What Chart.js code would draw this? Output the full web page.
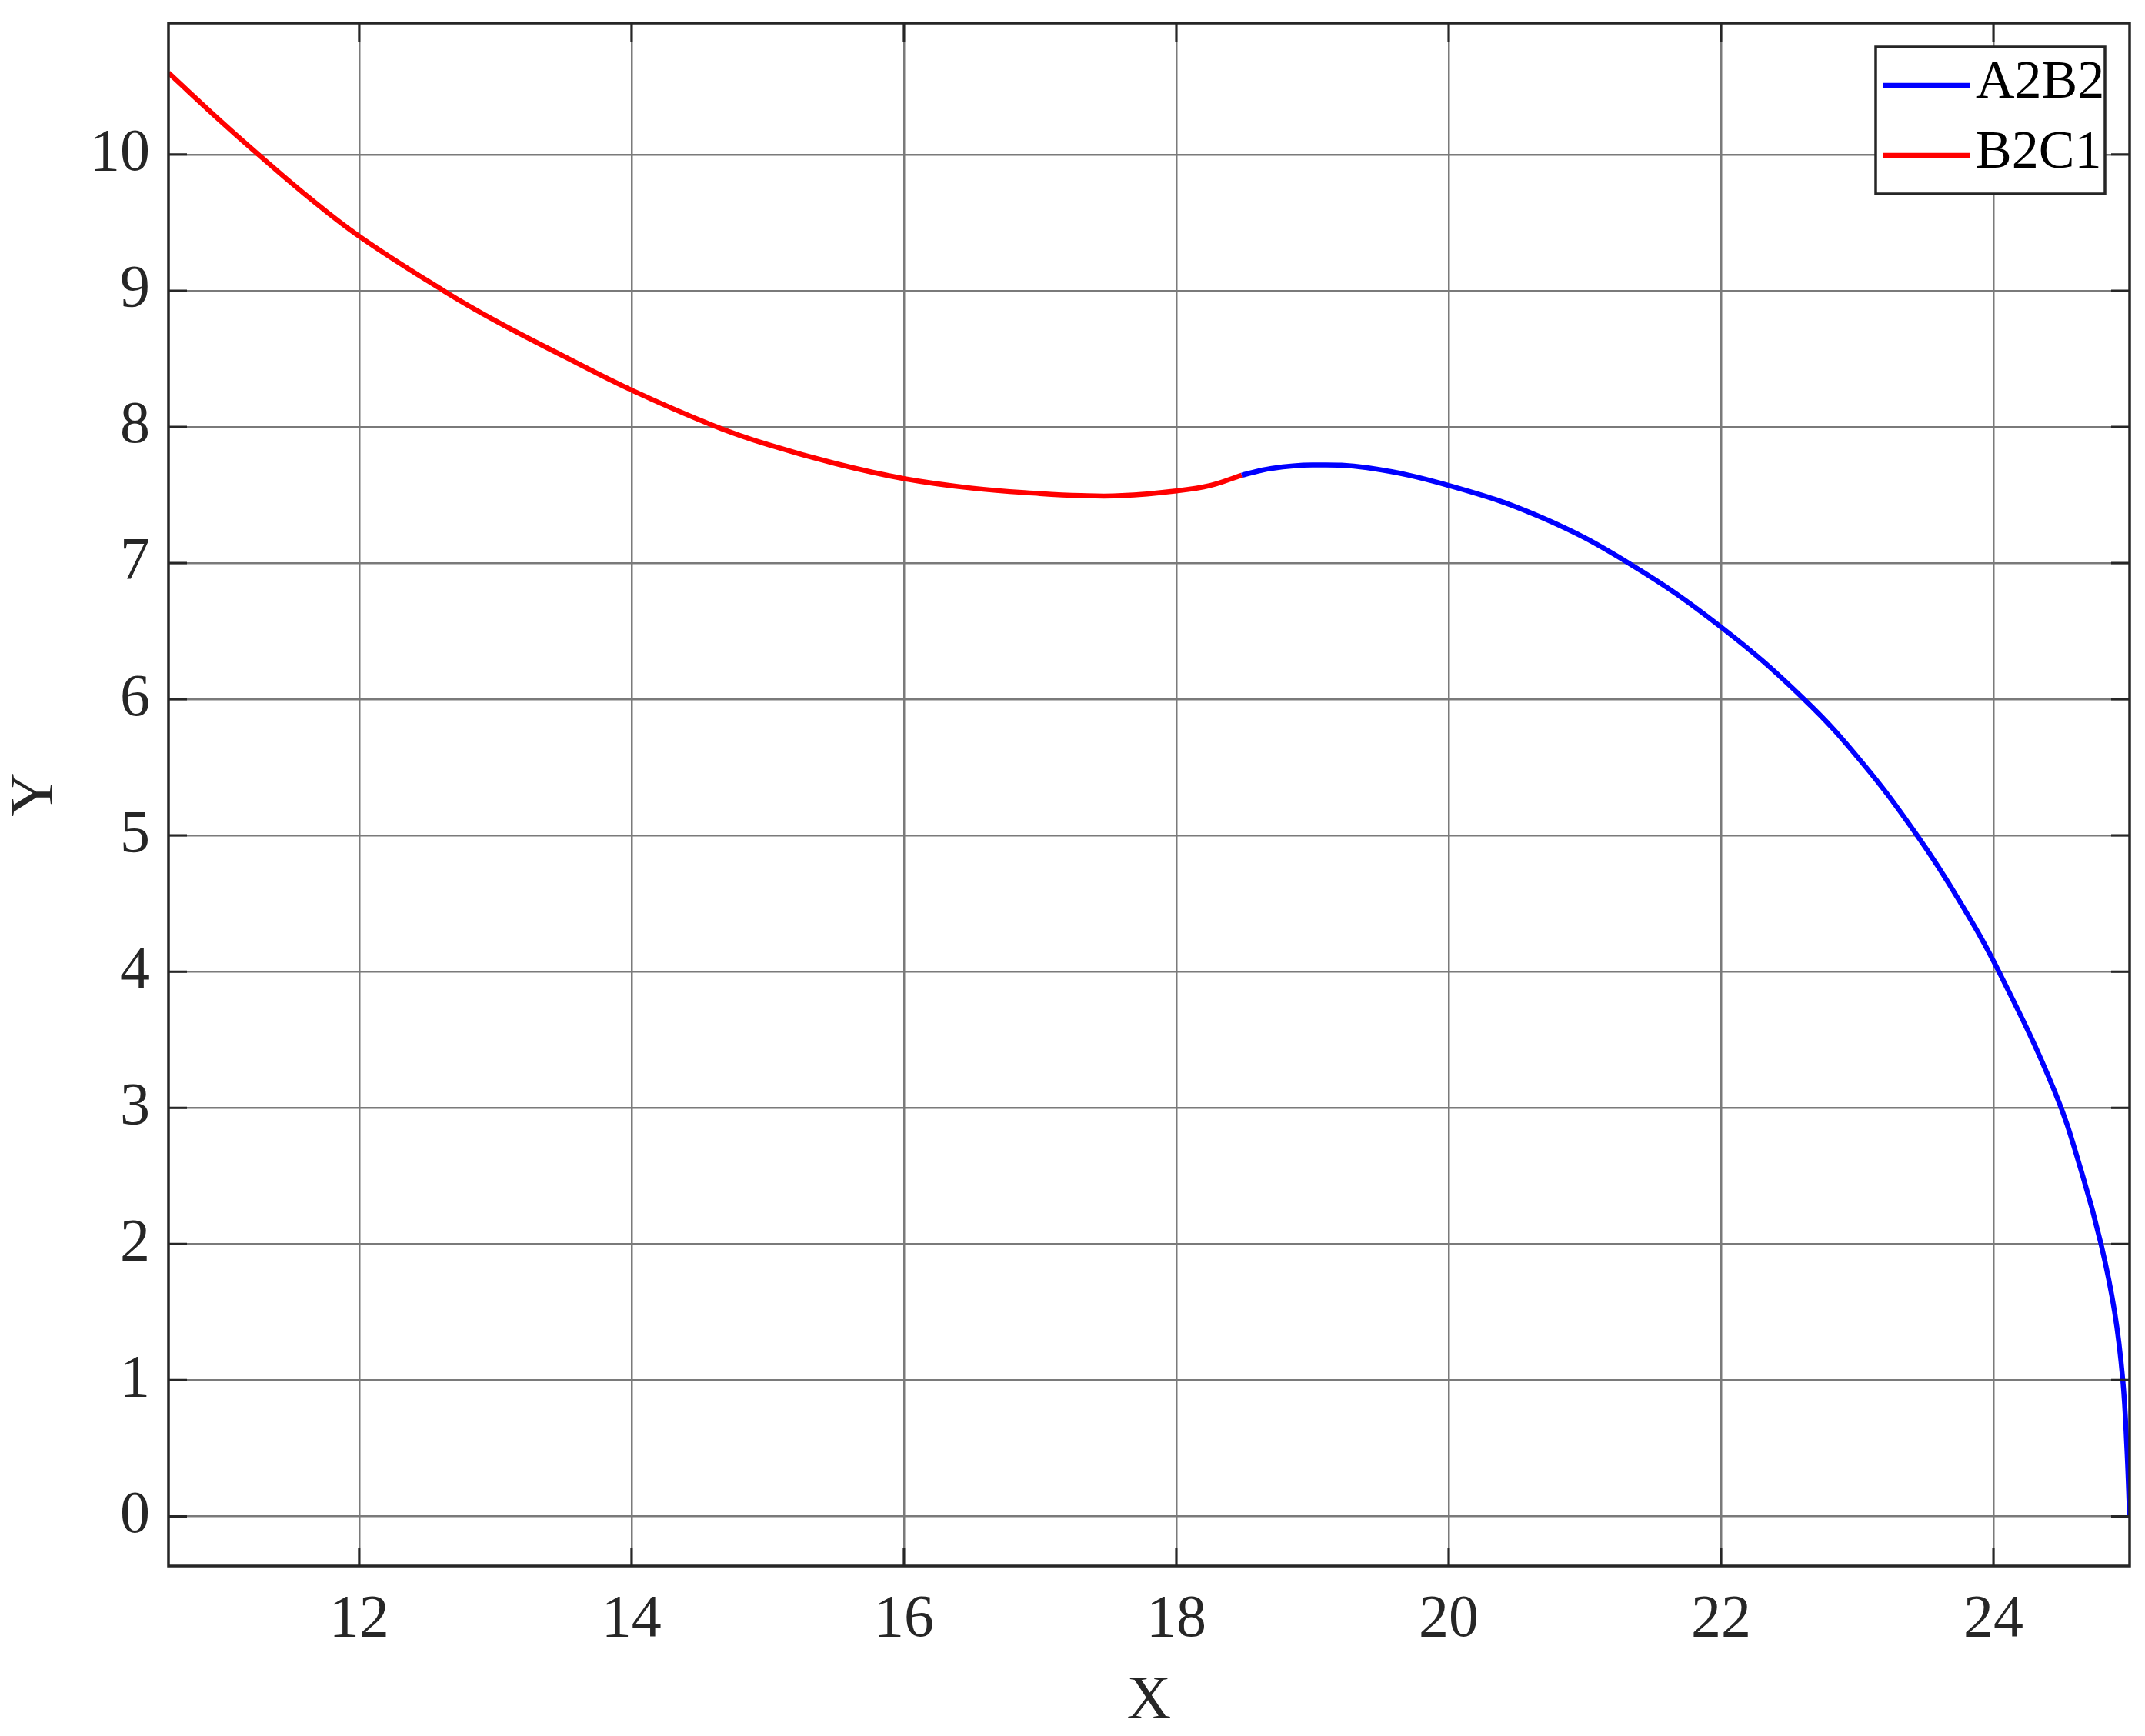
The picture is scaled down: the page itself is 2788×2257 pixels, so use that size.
<!DOCTYPE html>
<html>
<head>
<meta charset="utf-8">
<title>A2B2 / B2C1</title>
<script src="https://cdn.jsdelivr.net/npm/chart.js@4.4.1/dist/chart.umd.min.js"></script>
<style>
  html, body { margin: 0; padding: 0; background: #fff; }
  canvas { display: block; }
</style>
</head>
<body>
<canvas id="curveChart" width="2788" height="2257"></canvas>
<script>
// values
const a2b2X = [18.48, 18.7, 19.0, 19.4, 20.0, 20.67, 21.32, 22.0, 22.61, 23.04, 23.44, 23.75, 24.04, 24.45, 24.65, 24.79, 24.89, 24.95, 24.98, 25.0];
const a2b2Y = [7.645, 7.695, 7.72, 7.70, 7.57, 7.34, 7.0, 6.53, 6.0, 5.53, 5.0, 4.52, 4.0, 3.12, 2.52, 2.0, 1.5, 1.0, 0.5, 0.0];
const b2c1X = [10.6, 11.0, 11.26, 11.6, 12.0, 12.62, 13.0, 13.5, 14.0, 14.6, 15.0, 15.5, 16.0, 16.5, 17.0, 17.3, 17.6, 18.0, 18.25, 18.48];
const b2c1Y = [10.60, 10.23, 10.0, 9.71, 9.40, 9.0, 8.78, 8.52, 8.27, 8.01, 7.87, 7.73, 7.62, 7.55, 7.51, 7.495, 7.495, 7.53, 7.57, 7.645];

const xTicks = [12, 14, 16, 18, 20, 22, 24];
const yTicks = [0, 1, 2, 3, 4, 5, 6, 7, 8, 9, 10];
const xRange = [10.6, 25];
const yRange = [-0.365, 10.965]; // axis equal

const seriesNames = ['A2B2', 'B2C1'];
const seriesColors = ['#0000ff', '#ff0000'];

const toPoints = (xs, ys) => xs.map((x, i) => ({ x: x, y: ys[i] }));

const FONT = '"Liberation Serif", "DejaVu Serif", serif';
const INK = '#262626';

// no extra room for half tick labels, the plot box is fixed by hand
const noLabelPadding = scale => {
  scale.paddingTop = 0;
  scale.paddingBottom = 0;
  scale.paddingLeft = 0;
  scale.paddingRight = 0;
};

// box around the axes plus inward tick marks on all four sides
const axesFrame = {
  id: 'axesFrame',
  afterDatasetsDraw(chart) {
    const { ctx, chartArea: a, scales } = chart;
    const tl = 24;
    ctx.save();
    ctx.strokeStyle = INK;
    ctx.lineWidth = 3.5;
    ctx.strokeRect(a.left, a.top, a.right - a.left, a.bottom - a.top);
    ctx.lineWidth = 3;
    ctx.beginPath();
    xTicks.forEach(v => {
      const px = scales.x.getPixelForValue(v);
      ctx.moveTo(px, a.bottom); ctx.lineTo(px, a.bottom - tl);
      ctx.moveTo(px, a.top); ctx.lineTo(px, a.top + tl);
    });
    yTicks.forEach(v => {
      const py = scales.y.getPixelForValue(v);
      ctx.moveTo(a.left, py); ctx.lineTo(a.left + tl, py);
      ctx.moveTo(a.right, py); ctx.lineTo(a.right - tl, py);
    });
    ctx.stroke();
    ctx.restore();
  }
};

// legend box in the top right corner of the plot
const legendBox = {
  id: 'legendBox',
  afterDraw(chart) {
    const { ctx, chartArea } = chart;
    const w = 298, h = 191;
    const left = chartArea.right - 32 - w;
    const top = chartArea.top + 31;
    ctx.save();
    ctx.fillStyle = '#fff';
    ctx.fillRect(left, top, w, h);
    ctx.strokeStyle = INK;
    ctx.lineWidth = 3.5;
    ctx.strokeRect(left, top, w, h);
    ctx.font = '70px ' + FONT;
    ctx.textBaseline = 'alphabetic';
    ctx.textAlign = 'left';
    chart.data.datasets.forEach((ds, i) => {
      const y = top + 50 + i * 91;
      ctx.strokeStyle = ds.borderColor;
      ctx.lineWidth = 6.5;
      ctx.beginPath();
      ctx.moveTo(left + 10, y);
      ctx.lineTo(left + 122, y);
      ctx.stroke();
      ctx.fillStyle = '#000';
      ctx.fillText(ds.label, left + 130, y + 16);
    });
    ctx.restore();
  }
};

const ctx = document.getElementById('curveChart');

new Chart(ctx, {
  type: 'line',
  data: {
    datasets: [
      {
        label: seriesNames[0],
        data: toPoints(a2b2X, a2b2Y),
        borderColor: seriesColors[0],
        borderWidth: 6.5,
        pointRadius: 0,
        tension: 0.4
      },
      {
        label: seriesNames[1],
        data: toPoints(b2c1X, b2c1Y),
        borderColor: seriesColors[1],
        borderWidth: 6.5,
        pointRadius: 0,
        tension: 0.4
      }
    ]
  },
  options: {
    responsive: false,
    animation: false,
    devicePixelRatio: 1,
    layout: { padding: { top: 30, right: 20, left: 0, bottom: 0 } },
    plugins: {
      legend: { display: false },
      tooltip: { enabled: false }
    },
    scales: {
      x: {
        type: 'linear',
        min: xRange[0],
        max: xRange[1],
        afterBuildTicks: axis => { axis.ticks = xTicks.map(v => ({ value: v })); },
        afterFit: scale => { scale.height = 221; noLabelPadding(scale); },
        grid: { color: '#7a7a7a', lineWidth: 2.5, drawTicks: false },
        border: { display: false },
        ticks: { color: INK, padding: 24, maxRotation: 0, font: { family: FONT, size: 78 } },
        title: {
          display: true,
          text: 'X',
          color: INK,
          padding: { top: 0, bottom: 4 },
          font: { family: FONT, size: 80, lineHeight: 1 }
        }
      },
      y: {
        type: 'linear',
        min: yRange[0],
        max: yRange[1],
        afterBuildTicks: axis => { axis.ticks = yTicks.map(v => ({ value: v })); },
        afterFit: scale => { scale.width = 219; noLabelPadding(scale); },
        grid: { color: '#7a7a7a', lineWidth: 2.5, drawTicks: false },
        border: { display: false },
        ticks: { color: INK, padding: 24, font: { family: FONT, size: 78 } },
        title: {
          display: true,
          text: 'Y',
          color: INK,
          padding: { top: 7, bottom: 0 },
          font: { family: FONT, size: 80, lineHeight: 1 }
        }
      }
    }
  },
  plugins: [axesFrame, legendBox]
});
</script>
</body>
</html>
